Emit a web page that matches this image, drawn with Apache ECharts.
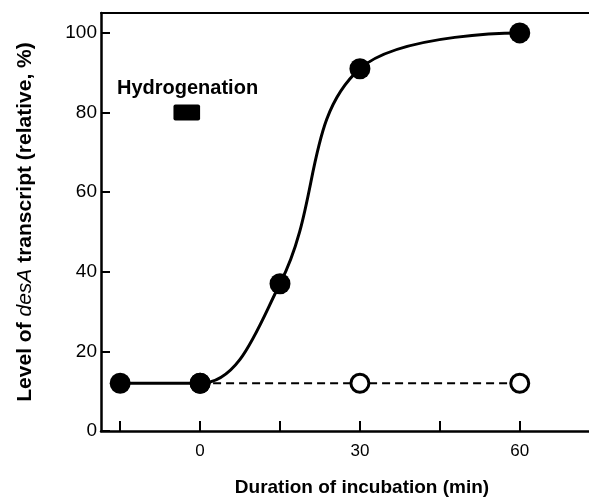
<!DOCTYPE html>
<html>
<head>
<meta charset="utf-8">
<title>desA transcript</title>
<script src="https://cdn.jsdelivr.net/npm/echarts@6/dist/echarts.min.js"></script>
<style>
  html, body { margin: 0; padding: 0; background: #fff; }
  #main { width: 589px; height: 502px; }
</style>
</head>
<body>
<div id="main"></div>
<script>
// minutes of incubation vs relative desA level (%)
var hydrogenated = [[-15, 12], [0, 12], [15, 37], [30, 91], [60, 100]];
var control = [[0, 12], [30, 12], [60, 12]];
// hydrogenation window: [start, end, level]
var hydroWindow = [[-5, 0, 80]];
var xTicks = [-15, 0, 15, 30, 45, 60];
var xLabels = [0, 30, 60];
var yTicks = [0, 20, 40, 60, 80, 100];

var font = 'Liberation Sans, Arial, sans-serif';
var chart = echarts.init(document.getElementById('main'));

var option = {
  animation: false,
  backgroundColor: '#fff',
  grid: { left: 101, right: 0, top: 13, bottom: 69 },
  xAxis: [{
    type: 'value',
    min: -18.6,
    max: 73,
    name: 'Duration of incubation (min)',
    nameLocation: 'middle',
    nameGap: 47,
    nameTextStyle: { fontFamily: font, fontWeight: 'bold', fontSize: 19, color: '#000', padding: [0, 0, 0, 34] },
    axisLine: { onZero: false, lineStyle: { color: '#000', width: 2.5 } },
    axisTick: { inside: true, length: 10, lineStyle: { color: '#000', width: 2 }, customValues: xTicks },
    axisLabel: { customValues: xLabels, margin: 12, fontFamily: font, fontSize: 17, color: '#000' },
    splitLine: { show: false }
  }, {
    type: 'value',
    position: 'top',
    min: -18.6,
    max: 73,
    axisLine: { show: true, onZero: false, lineStyle: { color: '#000', width: 2 } },
    axisTick: { show: false },
    axisLabel: { show: false },
    splitLine: { show: false }
  }],
  yAxis: {
    type: 'value',
    min: 0,
    max: 105,
    name: '{a|Level of }{i|desA}{a| transcript (relative, %)}',
    nameLocation: 'middle',
    nameGap: 65,
    nameTextStyle: {
      color: '#000',
      rich: {
        a: { fontFamily: font, fontWeight: 'bold', fontSize: 21, color: '#000' },
        i: { fontFamily: font, fontStyle: 'italic', fontSize: 21, color: '#000' }
      }
    },
    axisLine: { show: true, onZero: false, lineStyle: { color: '#000', width: 2.5 } },
    axisTick: { inside: true, length: 9, lineStyle: { color: '#000', width: 2 }, customValues: yTicks },
    axisLabel: { customValues: yTicks, margin: 4, fontFamily: font, fontSize: 19, color: '#000' },
    splitLine: { show: false }
  },
  graphic: [{
    type: 'text',
    left: 117,
    top: 78,
    style: { text: 'Hydrogenation', font: 'bold 20px ' + font, fill: '#000' }
  }],
  series: [{
    type: 'line',
    data: control,
    symbol: 'circle',
    symbolSize: 18,
    lineStyle: { color: '#000', width: 2, type: [8, 5] },
    itemStyle: { color: '#fff', borderColor: '#000', borderWidth: 3 },
    z: 2
  }, {
    type: 'line',
    data: hydrogenated,
    smooth: 0.4,
    symbol: 'circle',
    symbolSize: 21,
    lineStyle: { color: '#000', width: 3 },
    itemStyle: { color: '#000' },
    z: 3
  }, {
    type: 'custom',
    data: hydroWindow,
    renderItem: function (params, api) {
      var a = api.coord([api.value(0), api.value(2)]);
      var b = api.coord([api.value(1), api.value(2)]);
      return {
        type: 'rect',
        shape: { x: a[0], y: a[1] - 8, width: b[0] - a[0], height: 16, r: 2 },
        style: { fill: '#000' }
      };
    },
    z: 3
  }]
};
chart.setOption(option);
</script>
</body>
</html>
